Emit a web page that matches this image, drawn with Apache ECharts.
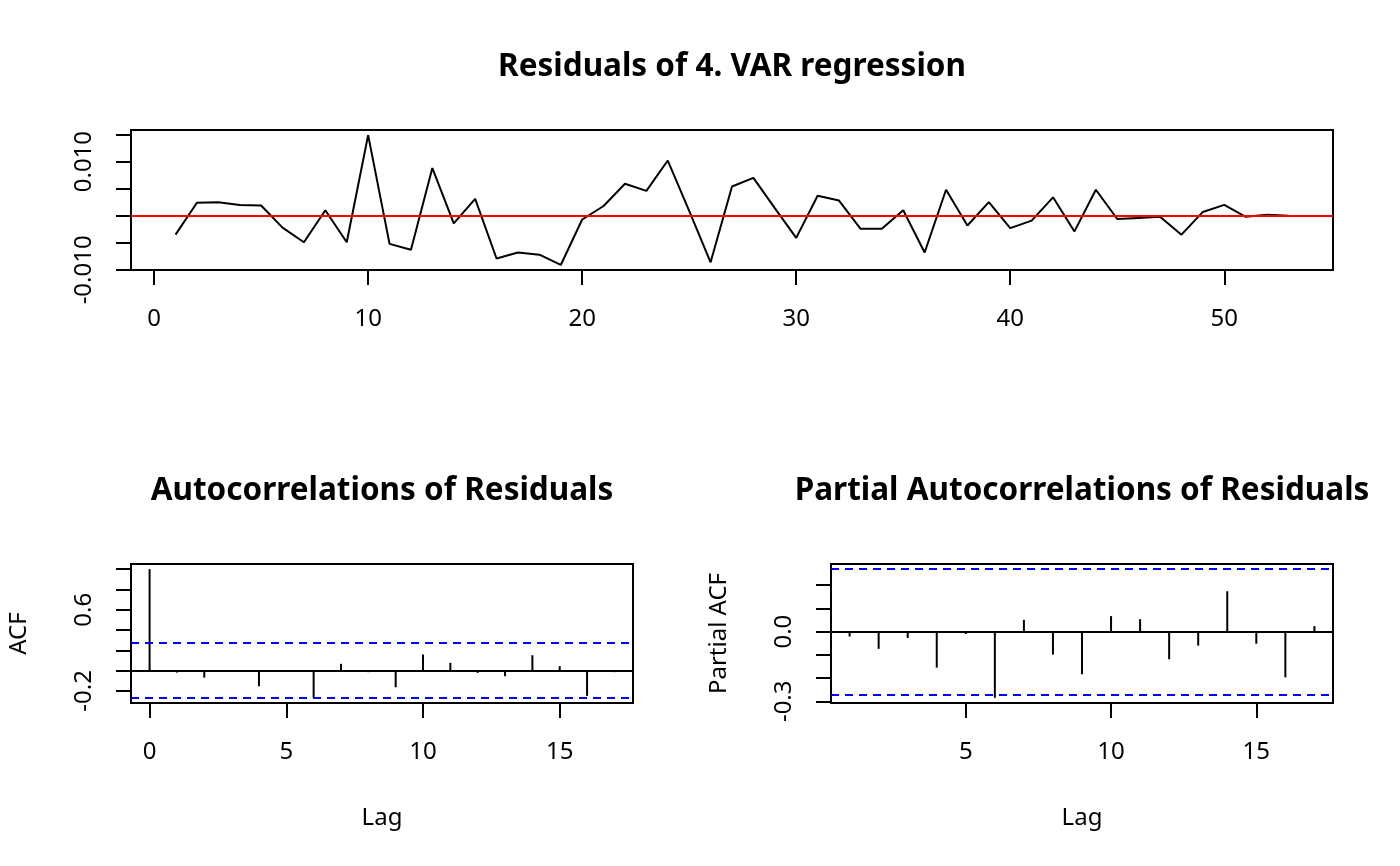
<!DOCTYPE html>
<html>
<head>
<meta charset="utf-8">
<title>Residuals of 4. VAR regression</title>
<script src="https://cdn.jsdelivr.net/npm/echarts@6/dist/echarts.min.js"></script>
<style>
  html, body { margin: 0; padding: 0; background: #fff; }
  #main { width: 1400px; height: 866px; }
</style>
</head>
<body>
<div id="main"></div>
<script>
// residuals of the 4th VAR equation, t = 1..53
var resid = [
  -0.0035, 0.0024, 0.0025, 0.0020, 0.0019, -0.0022, -0.0049, 0.0010, -0.0049, 0.0149,
  -0.0052, -0.0063, 0.0088, -0.0014, 0.0031, -0.0079, -0.0068, -0.0072, -0.0091, -0.0007,
  0.0018, 0.0059, 0.0046, 0.0102, 0.0009, -0.0086, 0.0054, 0.0070, 0.0014, -0.0041,
  0.0037, 0.0028, -0.0024, -0.0024, 0.0010, -0.0068, 0.0048, -0.0018, 0.0025, -0.0023,
  -0.0009, 0.0034, -0.0029, 0.0048, -0.0006, -0.0004, -0.0002, -0.0035, 0.0007, 0.0020,
  -0.0002, 0.0002, 0.0000
];

var acfLags = [0, 1, 2, 3, 4, 5, 6, 7, 8, 9, 10, 11, 12, 13, 14, 15, 16, 17];
var acfValues = [1.0, -0.02, -0.07, -0.015, -0.155, 0.005, -0.269, 0.066, -0.016, -0.165,
  0.158, 0.076, -0.023, -0.056, 0.151, 0.043, -0.25, -0.016];

var pacfLags = [1, 2, 3, 4, 5, 6, 7, 8, 9, 10, 11, 12, 13, 14, 15, 16, 17];
var pacfValues = [-0.021, -0.074, -0.027, -0.155, -0.010, -0.285, 0.051, -0.099, -0.183,
  0.067, 0.054, -0.119, -0.060, 0.174, -0.052, -0.197, 0.024];

var ciBound = 0.2692; // 1.96 / sqrt(53)

// ticks and labels as R drew them
var residTicksX = [0, 10, 20, 30, 40, 50];
var residTicksY = [-0.010, -0.005, 0, 0.005, 0.010, 0.015];
var residLabelsY = [-0.010, 0.010];
var acfTicksX = [0, 5, 10, 15];
var acfTicksY = [-0.2, 0, 0.2, 0.4, 0.6, 0.8, 1.0];
var acfLabelsY = [-0.2, 0.6];
var pacfTicksX = [5, 10, 15];
var pacfTicksY = [-0.3, -0.2, -0.1, 0, 0.1, 0.2];
var pacfLabelsY = [-0.3, 0];

var FONT = '"Noto Sans", "DejaVu Sans", sans-serif';

var chart = echarts.init(document.getElementById('main'), null, { renderer: 'canvas' });

function xAxisOf(gridIndex, min, max, ticks, name) {
  return {
    type: 'value', gridIndex: gridIndex, min: min, max: max,
    splitLine: { show: false },
    axisLine: { show: false, onZero: false },
    axisTick: { show: true, length: 15, customValues: ticks, lineStyle: { color: '#000', width: 2 } },
    axisLabel: {
      customValues: ticks, margin: 37, color: '#000', fontSize: 24, fontFamily: FONT,
      formatter: function (v) { return String(v); }
    },
    name: name, nameLocation: 'middle', nameGap: 103,
    nameTextStyle: { color: '#000', fontSize: 24, fontFamily: FONT }
  };
}

function yAxisOf(gridIndex, min, max, ticks, labels, digits, name) {
  return {
    type: 'value', gridIndex: gridIndex, min: min, max: max,
    splitLine: { show: false },
    axisLine: { show: false, onZero: false },
    axisTick: { show: true, length: 15, customValues: ticks, lineStyle: { color: '#000', width: 2 } },
    axisLabel: {
      customValues: labels, margin: 35, rotate: 90, color: '#000', fontSize: 24, fontFamily: FONT,
      formatter: function (v) { return Number(v).toFixed(digits); }
    },
    name: name, nameLocation: 'middle', nameGap: 100, nameRotate: 90,
    nameTextStyle: { color: '#000', fontSize: 24, fontFamily: FONT }
  };
}

// vertical spikes from 0 to each lag value (type = "h" in R)
function lagSpikes(params, api) {
  var base = api.coord([api.value(0), 0]);
  var tip = api.coord([api.value(0), api.value(1)]);
  return {
    type: 'line',
    shape: { x1: base[0], y1: base[1], x2: tip[0], y2: tip[1] },
    style: { stroke: '#000', lineWidth: 2 }
  };
}

// zero line + blue confidence bounds
function refLines() {
  return {
    silent: true, symbol: ['none', 'none'], label: { show: false }, animation: false,
    data: [
      { yAxis: 0, lineStyle: { color: '#000', type: 'solid', width: 2 } },
      { yAxis: ciBound, lineStyle: { color: '#0000ff', type: [8, 6], width: 2 } },
      { yAxis: -ciBound, lineStyle: { color: '#0000ff', type: [8, 6], width: 2 } }
    ]
  };
}

var gridStyle = { show: true, borderColor: '#000', borderWidth: 2, backgroundColor: 'transparent' };
var titleStyle = { fontSize: 31.5, fontWeight: 'bold', fontFamily: FONT, fill: '#000', align: 'center', verticalAlign: 'middle' };

var option = {
  backgroundColor: '#fff',
  animation: false,
  graphic: [
    { type: 'text', x: 732, y: 67, style: Object.assign({ text: 'Residuals of 4. VAR regression' }, titleStyle) },
    { type: 'text', x: 382, y: 491, style: Object.assign({ text: 'Autocorrelations of Residuals' }, titleStyle) },
    { type: 'text', x: 1082, y: 491, style: Object.assign({ text: 'Partial Autocorrelations of Residuals' }, titleStyle) }
  ],
  grid: [
    Object.assign({ left: 131, top: 130, width: 1202, height: 140 }, gridStyle),
    Object.assign({ left: 131, top: 564, width: 502, height: 139 }, gridStyle),
    Object.assign({ left: 831, top: 564, width: 502, height: 139 }, gridStyle)
  ],
  xAxis: [
    xAxisOf(0, -1.08, 55.08, residTicksX, ''),
    xAxisOf(1, -0.68, 17.68, acfTicksX, 'Lag'),
    xAxisOf(2, 0.36, 17.64, pacfTicksX, 'Lag')
  ],
  yAxis: [
    yAxisOf(0, -0.01003, 0.01584, residTicksY, residLabelsY, 3, ''),
    yAxisOf(1, -0.32, 1.0508, acfTicksY, acfLabelsY, 1, 'ACF'),
    yAxisOf(2, -0.3074, 0.2915, pacfTicksY, pacfLabelsY, 1, 'Partial ACF')
  ],
  series: [
    {
      type: 'line', xAxisIndex: 0, yAxisIndex: 0,
      data: resid.map(function (v, i) { return [i + 1, v]; }),
      showSymbol: false, symbol: 'none',
      lineStyle: { color: '#000', width: 2 },
      markLine: {
        silent: true, symbol: ['none', 'none'], label: { show: false },
        lineStyle: { color: '#ff0000', type: 'solid', width: 2 },
        data: [{ yAxis: 0 }]
      }
    },
    {
      type: 'custom', xAxisIndex: 1, yAxisIndex: 1,
      renderItem: lagSpikes,
      data: acfLags.map(function (l, i) { return [l, acfValues[i]]; }),
      markLine: refLines()
    },
    {
      type: 'custom', xAxisIndex: 2, yAxisIndex: 2,
      renderItem: lagSpikes,
      data: pacfLags.map(function (l, i) { return [l, pacfValues[i]]; }),
      markLine: refLines()
    }
  ]
};

chart.setOption(option);
</script>
</body>
</html>
